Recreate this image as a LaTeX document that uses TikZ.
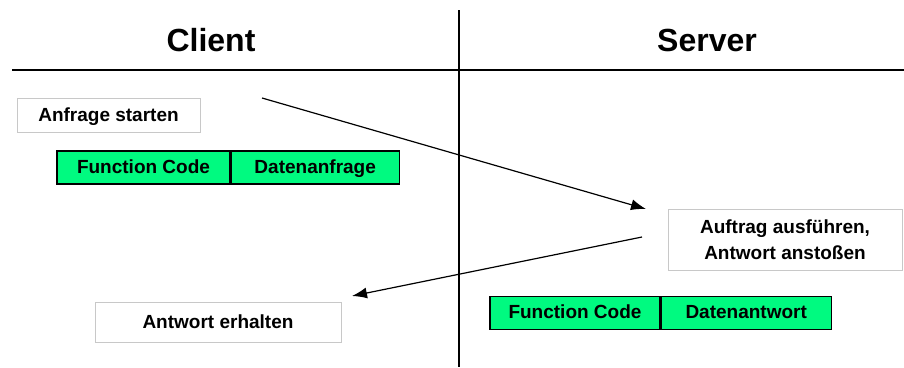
\documentclass[tikz,border=0pt]{standalone}
\usepackage{fontspec}
\setmainfont{Liberation Sans}
\usetikzlibrary{arrows.meta}
\definecolor{pdugreen}{RGB}{0,250,128}
\definecolor{boxgray}{RGB}{200,200,200}
\begin{document}
\begin{tikzpicture}[x=1pt,y=-1pt,
  head/.style={font=\fontsize{32}{36}\selectfont\bfseries},
  stepbox/.style={draw=boxgray,line width=1pt,fill=white,inner sep=0pt,
    font=\fontsize{19}{26}\selectfont\bfseries,align=center},
  oneline/.style={text height=14pt,text depth=2pt},
  field/.style={draw=black,line width=1.2pt,fill=pdugreen,inner sep=0pt,
    minimum height=33pt,text height=14pt,text depth=3pt,
    font=\fontsize{19}{22}\selectfont\bfseries},
  msg/.style={line width=1.2pt,-{Latex[length=15pt,width=11pt]}}]
\useasboundingbox (0,0) rectangle (904,367);

% column separator and header rule
\coordinate (vtop) at (459,10);
\coordinate (vbot) at (459,367);
\coordinate (hl) at (12,70);
\coordinate (hr) at (904,70);
\draw[line width=1.6pt] (vtop) -- (vbot);
\draw[line width=1.6pt] (hl) -- (hr);

% column headings
\node[head] (client) at (211,40) {Client};
\node[head] (server) at (707,40) {Server};

% client side
\node[stepbox,oneline,minimum width=183pt,minimum height=34pt] (start) at (108.5,115) {Anfrage starten};
\node[field,minimum width=173pt] (fc1) at (143.5,167.5) {Function Code};
\node[field,minimum width=168pt,anchor=west] (req) at (fc1.east) {Datenanfrage};
\node[stepbox,oneline,minimum width=246pt,minimum height=40pt] (done) at (218,322) {Antwort erhalten};

% server side
\node[stepbox,minimum width=234pt,minimum height=61pt] (exec) at (785,239.5) {Auftrag ausführen,\\Antwort anstoßen};
\node[field,minimum width=170pt] (fc2) at (575,313) {Function Code};
\node[field,minimum width=170pt,anchor=west] (resp) at (fc2.east) {Datenantwort};

% request and response messages
\coordinate (reqfrom) at (262,98);
\coordinate (reqto) at (646,209);
\coordinate (respfrom) at (642,237);
\coordinate (respto) at (352,296);
\draw[msg] (reqfrom) -- (reqto);
\draw[msg] (respfrom) -- (respto);
\end{tikzpicture}
\end{document}
